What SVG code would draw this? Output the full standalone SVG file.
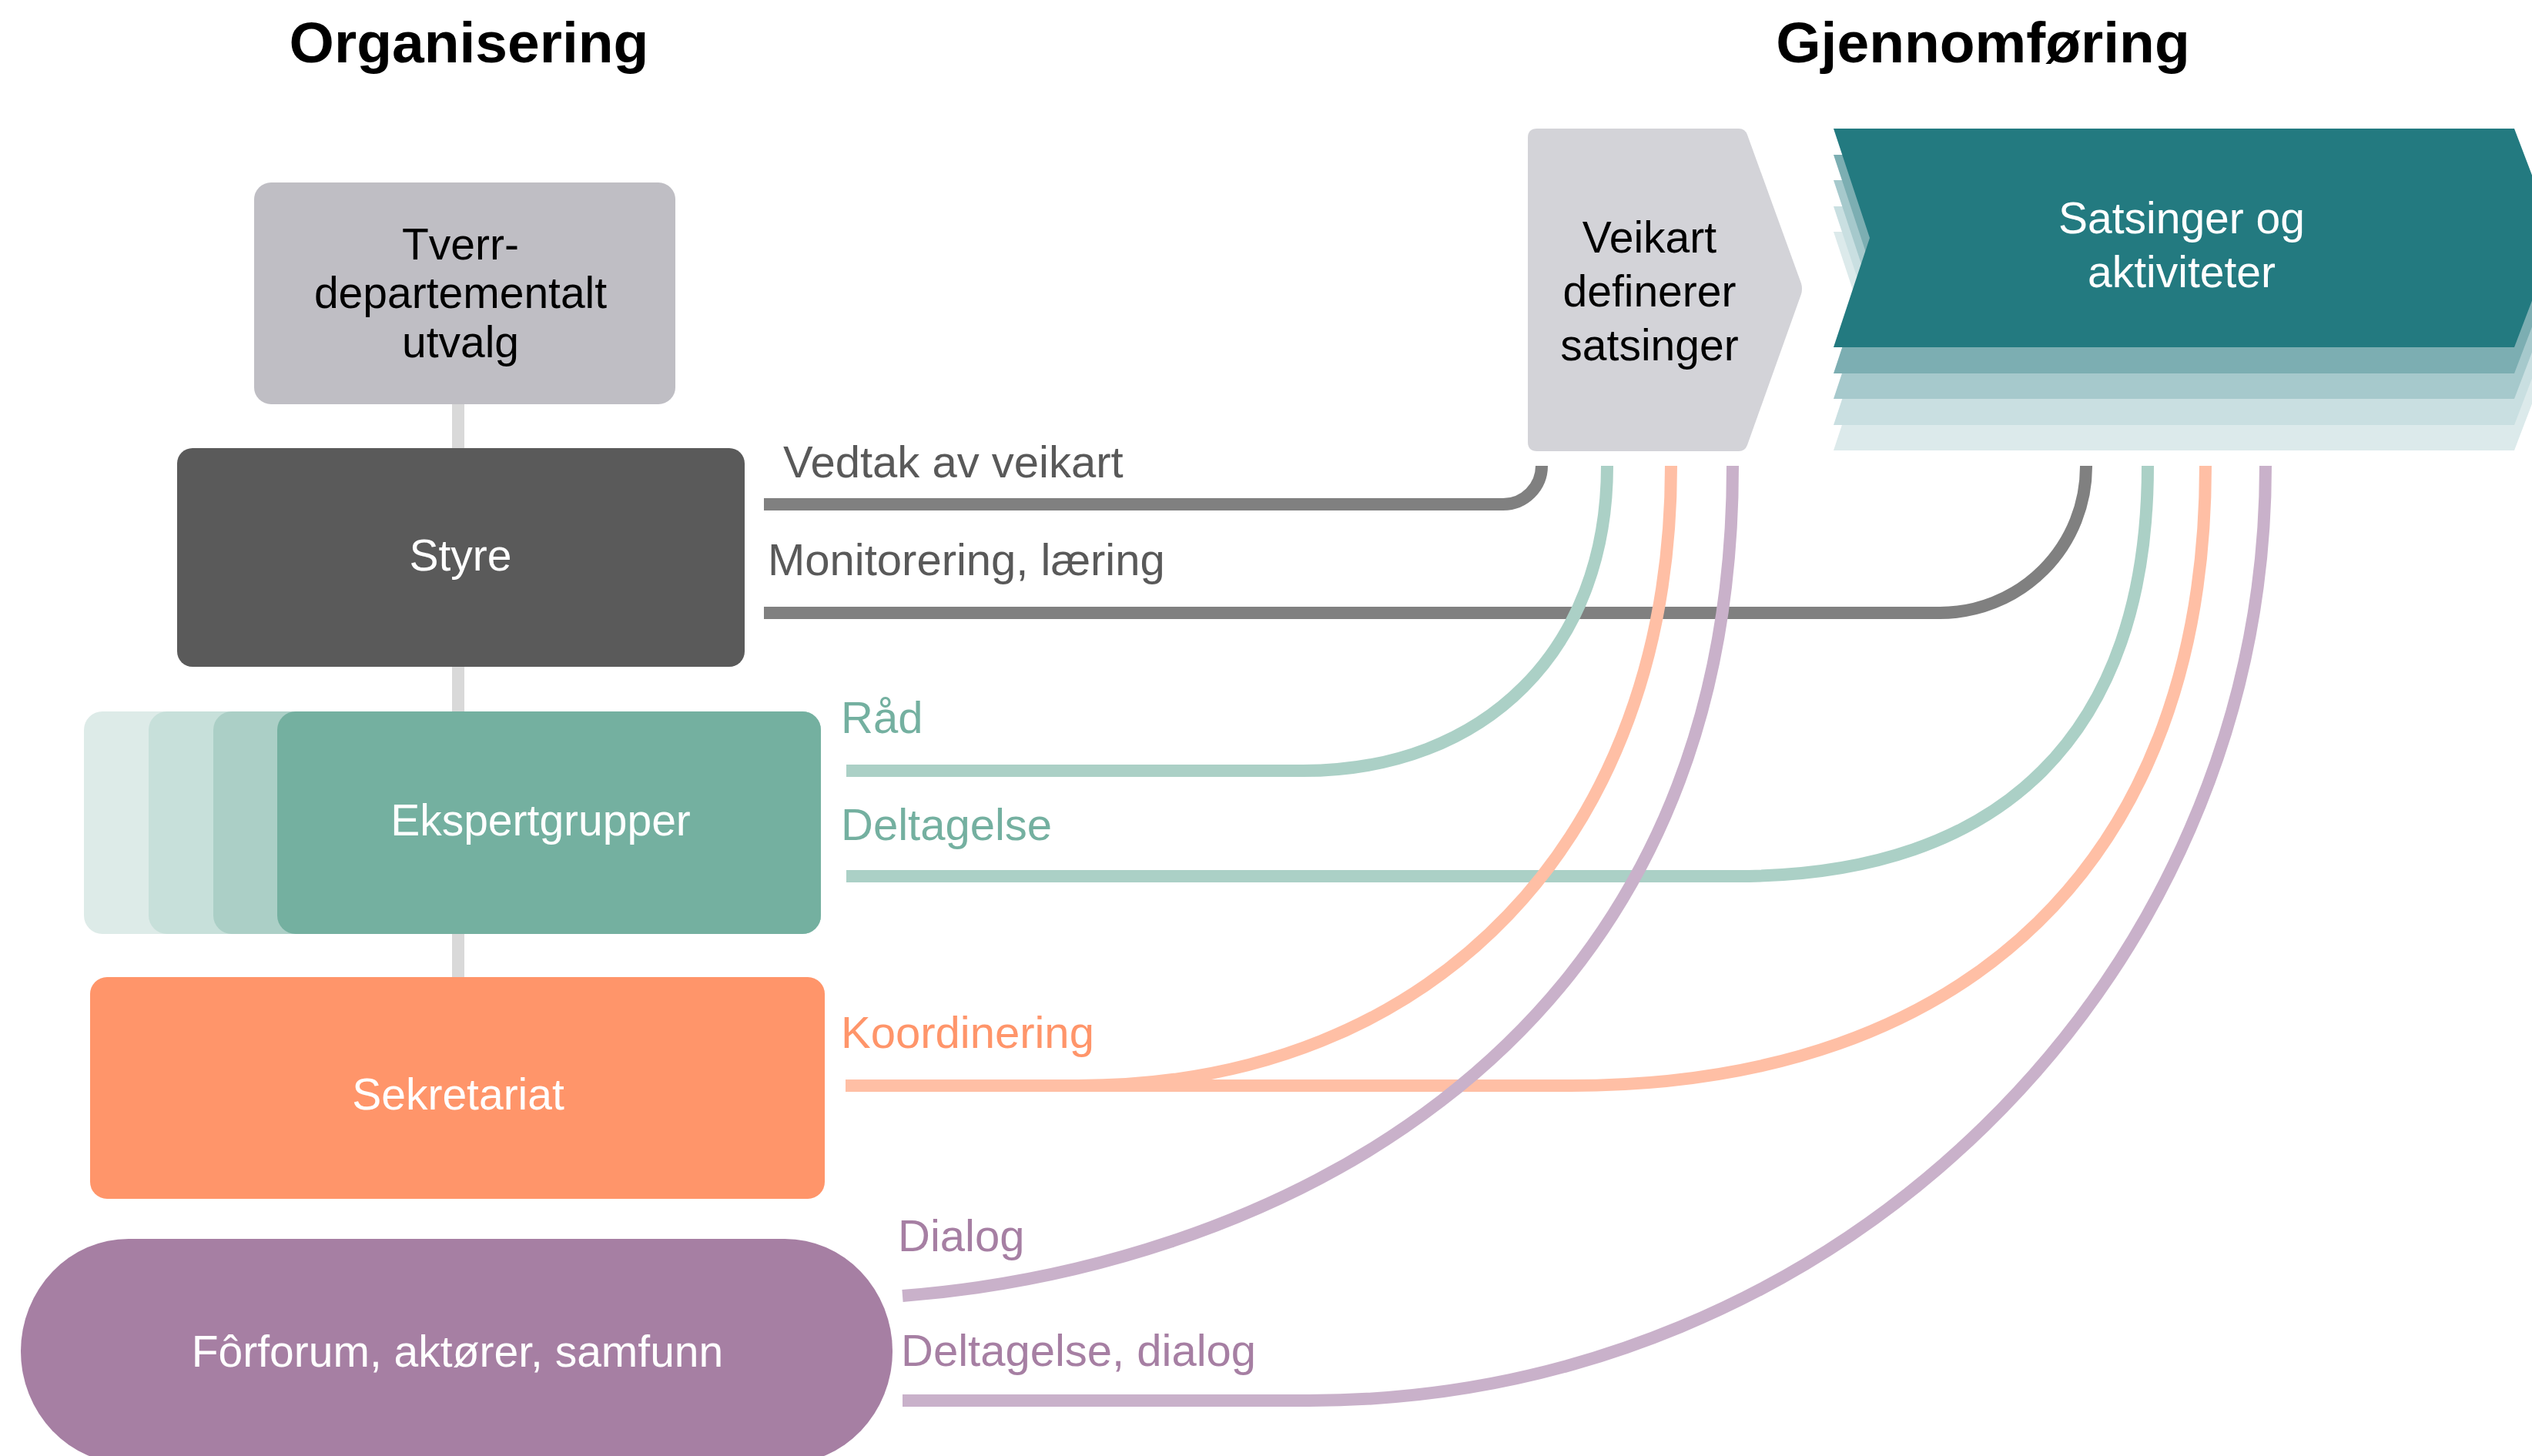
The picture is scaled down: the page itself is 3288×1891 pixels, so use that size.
<svg xmlns="http://www.w3.org/2000/svg" width="3288" height="1891" viewBox="0 0 3288 1891">
<style>
text{font-family:"Liberation Sans",Arial,Helvetica,sans-serif;}
.h{font-size:75px;font-weight:bold;fill:#000;text-anchor:middle;}
.t{font-size:57px;text-anchor:middle;}
.w{fill:#fff;}
.k{fill:#000;}
.lab{font-size:58px;}
.c{fill:none;stroke-width:16;stroke-linecap:butt;}
.gr{stroke:#808080;}
.te{stroke:#abd0c6;}
.or{stroke:#ffbfa5;}
.pu{stroke:#c9b1ca;}
</style>
<defs>
<path id="sat" d="M2381,167 L3265,167 L3319,309 L3265,451 L2381,451 L2428,309 Z"/>
</defs>
<rect width="3288" height="1891" fill="#fff"/>

<text class="h" x="609" y="81">Organisering</text>
<text class="h" x="2575" y="81">Gjennomføring</text>

<line x1="595" y1="520" x2="595" y2="1275" stroke="#d9d9d9" stroke-width="16"/>

<g id="tverr">
<rect x="330" y="237" width="547" height="288" rx="22" fill="#bfbec4"/>
<text class="t k" x="598" y="337">Tverr-</text>
<text class="t k" x="598" y="400">departementalt</text>
<text class="t k" x="598" y="464">utvalg</text>
</g>

<g id="styre">
<rect x="230" y="582" width="737" height="284" rx="20" fill="#5a5a5a"/>
<text class="t w" x="598" y="741">Styre</text>
</g>

<g id="ekspert">
<rect x="109" y="924" width="957" height="289" rx="24" fill="#ddebe8"/>
<rect x="193" y="924" width="873" height="289" rx="24" fill="#c7e0da"/>
<rect x="277" y="924" width="789" height="289" rx="24" fill="#abcfc6"/>
<rect x="360" y="924" width="706" height="289" rx="24" fill="#74b0a0"/>
<text class="t w" x="702" y="1085">Ekspertgrupper</text>
</g>

<g id="sekretariat">
<rect x="117" y="1269" width="954" height="288" rx="22" fill="#ff956a"/>
<text class="t w" x="595" y="1441">Sekretariat</text>
</g>

<g id="forforum">
<rect x="27" y="1609" width="1132" height="292" rx="140" ry="146" fill="#a67fa3"/>
<text class="t w" x="594" y="1775">Fôrforum, aktører, samfunn</text>
</g>

<g id="veikart">
<path d="M1996,167 L2258,167 Q2266,167 2269,175 L2339,368 Q2341,375 2339,382 L2269,578 Q2266,586 2258,586 L1996,586 Q1984,586 1984,574 L1984,179 Q1984,167 1996,167 Z" fill="#d3d3d8"/>
<text class="t k" x="2142" y="328">Veikart</text>
<text class="t k" x="2142" y="398">definerer</text>
<text class="t k" x="2142" y="468">satsinger</text>
</g>

<g id="satsinger">
<use href="#sat" transform="translate(0,134)" fill="#dceaeb"/>
<use href="#sat" transform="translate(0,101)" fill="#c9dfe1"/>
<use href="#sat" transform="translate(0,67)" fill="#a6c9cc"/>
<use href="#sat" transform="translate(0,34)" fill="#7caeb2"/>
<use href="#sat" fill="#237a80"/>
<text class="t w" x="2833" y="303">Satsinger og</text>
<text class="t w" x="2833" y="373">aktiviteter</text>
</g>

<g id="connectors">
<path class="c gr" d="M992,655 H1952 A50,50 0 0 0 2002,605"/>
<path class="c gr" d="M992,796 H2519 A190,190 0 0 0 2709,606 V605"/>
<path class="c te" d="M1099,1001 H1692 C1929,1001 2087,843 2087,605"/>
<path class="c te" d="M1099,1138 H2255 C2602,1138 2789,951 2789,605"/>
<path class="c or" d="M1098,1410 H1400 C1862,1410 2170,1088 2170,605"/>
<path class="c or" d="M1098,1410 H2040 C2559,1410 2864,1112 2864,605"/>
<path class="c pu" d="M1172,1683 C1600,1650 2250,1400 2250,605"/>
<path class="c pu" d="M1172,1819 H1700 C2383,1819 2942,1273 2942,605"/>
</g>

<g id="labels">
<text class="lab" x="1017" y="620" fill="#595959">Vedtak av veikart</text>
<text class="lab" x="997" y="747" fill="#595959">Monitorering, læring</text>
<text class="lab" x="1092" y="952" fill="#74b0a0">Råd</text>
<text class="lab" x="1092" y="1091" fill="#74b0a0">Deltagelse</text>
<text class="lab" x="1092" y="1361" fill="#ff956a">Koordinering</text>
<text class="lab" x="1166" y="1625" fill="#a67fa3">Dialog</text>
<text class="lab" x="1170" y="1774" fill="#a67fa3">Deltagelse, dialog</text>
</g>
</svg>
